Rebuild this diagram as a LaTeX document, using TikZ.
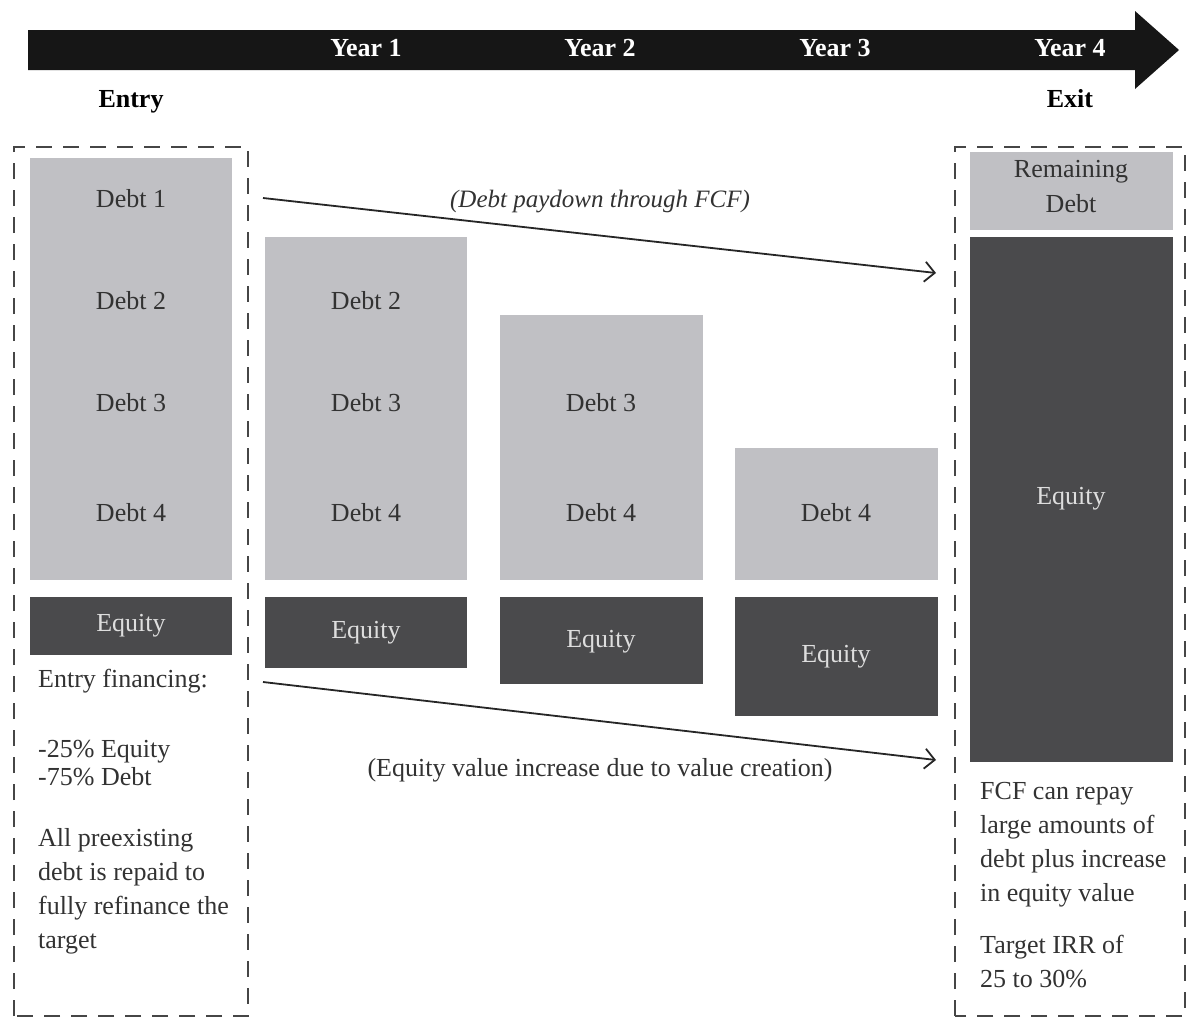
\documentclass[tikz,border=0pt]{standalone}
\usepackage{fontspec}
\setmainfont{Liberation Serif}
\usetikzlibrary{arrows.meta}
\definecolor{lightbar}{RGB}{192,192,196}
\definecolor{darkbar}{RGB}{74,74,76}
\definecolor{bandcol}{RGB}{22,22,22}
\definecolor{inktext}{RGB}{50,50,50}
\definecolor{paletext}{RGB}{222,222,222}
\definecolor{dashcol}{RGB}{70,70,70}
\tikzset{
  evenbox/.style={text height=0.7em, text depth=0pt, yshift=-3pt},
  lbl/.style={font=\fontsize{26}{30}\selectfont, text=inktext, evenbox},
  lbldark/.style={font=\fontsize{26}{30}\selectfont, text=paletext, evenbox},
  yearlbl/.style={font=\fontsize{26}{30}\selectfont\bfseries, text=white, evenbox},
  headlbl/.style={font=\fontsize{26}{30}\selectfont\bfseries, text=black, evenbox},
  bodytxt/.style={font=\fontsize{26}{34}\selectfont, text=inktext, anchor=north west, align=left, inner sep=0pt},
  dashbox/.style={draw=dashcol, line width=1.5pt, dash pattern=on 16pt off 11pt},
  flowarrow/.style={draw=black!85, line width=1.8pt, -{Straight Barb[length=10pt,width=20pt,line width=1.8pt]}},
}
\begin{document}
\begin{tikzpicture}[x=1pt,y=-1pt]
\useasboundingbox (0,0) rectangle (1187,1018);
% time band
\fill[bandcol] (28,30) -- (1135,30) -- (1135,11) -- (1179,50) -- (1135,89) -- (1135,70) -- (28,70) -- cycle;
\node[yearlbl] (y1) at (366,50) {Year 1};
\node[yearlbl] (y2) at (600,50) {Year 2};
\node[yearlbl] (y3) at (835,50) {Year 3};
\node[yearlbl] (y4) at (1070,50) {Year 4};
\node[headlbl] (entry) at (131,101) {Entry};
\node[headlbl] (exit) at (1070,101) {Exit};
% dashed frames
\draw[dashbox] (14,1016) -- (14,147) -- (248,147) -- (248,1016) -- cycle;
\draw[dashbox] (955,1016) -- (955,147) -- (1185,147) -- (1185,1016) -- cycle;
% column 1 (entry)
\fill[lightbar] (30,158) rectangle (232,580);
\fill[darkbar] (30,597) rectangle (232,655);
\node[lbl] (c1d1) at (131,201) {Debt 1};
\node[lbl] (c1d2) at (131,303) {Debt 2};
\node[lbl] (c1d3) at (131,405) {Debt 3};
\node[lbl] (c1d4) at (131,515) {Debt 4};
\node[lbldark] (c1e) at (131,625) {Equity};
% column 2
\fill[lightbar] (265,237) rectangle (467,580);
\fill[darkbar] (265,597) rectangle (467,668);
\node[lbl] (c2d2) at (366,303) {Debt 2};
\node[lbl] (c2d3) at (366,405) {Debt 3};
\node[lbl] (c2d4) at (366,515) {Debt 4};
\node[lbldark] (c2e) at (366,632) {Equity};
% column 3
\fill[lightbar] (500,315) rectangle (703,580);
\fill[darkbar] (500,597) rectangle (703,684);
\node[lbl] (c3d3) at (601,405) {Debt 3};
\node[lbl] (c3d4) at (601,515) {Debt 4};
\node[lbldark] (c3e) at (601,641) {Equity};
% column 4
\fill[lightbar] (735,448) rectangle (938,580);
\fill[darkbar] (735,597) rectangle (938,716);
\node[lbl] (c4d4) at (836,515) {Debt 4};
\node[lbldark] (c4e) at (836,656) {Equity};
% column 5 (exit)
\fill[lightbar] (970,152) rectangle (1173,230);
\fill[darkbar] (970,237) rectangle (1173,762);
\node[lbl] (c5d1) at (1071,171) {Remaining};
\node[lbl] (c5d2) at (1071,206) {Debt};
\node[lbldark] (c5e) at (1071,498) {Equity};
% flow arrows
\coordinate (a1s) at (263,198);
\coordinate (a1e) at (936,273);
\coordinate (a2s) at (263,682);
\coordinate (a2e) at (936,760);
\draw[flowarrow] (a1s) -- (a1e);
\draw[flowarrow] (a2s) -- (a2e);
\node[lbl, font=\fontsize{25}{30}\selectfont\itshape] (a1l) at (600,201) {(Debt paydown through FCF)};
\node[lbl] (a2l) at (600,770) {(Equity value increase due to value creation)};
% texts
\node[bodytxt] (t1) at (38,669) {Entry financing:};
\node[bodytxt, font=\fontsize{26}{28}\selectfont] (t2) at (38,740) {-25\% Equity\\-75\% Debt};
\node[bodytxt] (t3) at (38,828) {All preexisting\\debt is repaid to\\fully refinance the\\target};
\node[bodytxt] (t4) at (980,782) {FCF can repay\\large amounts of\\debt plus increase\\in equity value};
\node[bodytxt] (t5) at (980,935) {Target IRR of\\25 to 30\%};
\end{tikzpicture}
\end{document}
